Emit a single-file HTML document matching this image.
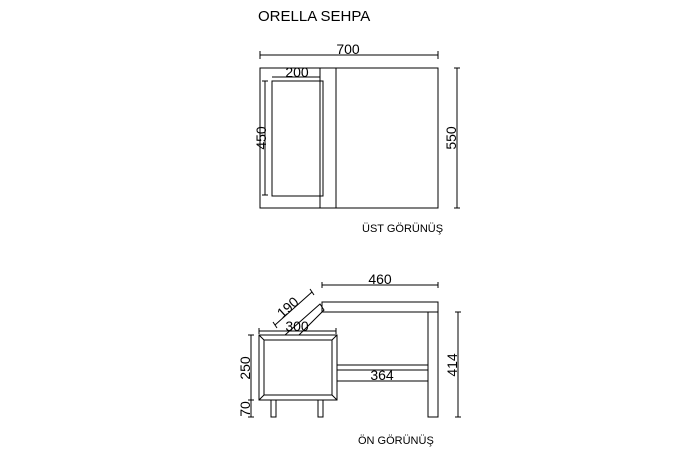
<!DOCTYPE html>
<html><head><meta charset="utf-8"><style>body{margin:0;background:#fff}svg{display:block}</style></head><body>
<svg width="700" height="450" xmlns="http://www.w3.org/2000/svg" font-family="Liberation Sans, sans-serif" fill="none" stroke="#000" stroke-width="1">
<text x="258" y="21" font-size="15" fill="#000" stroke="none">ORELLA SEHPA</text>
<!-- top view -->
<rect x="260" y="68" width="178" height="140"/>
<line x1="320" y1="68" x2="320" y2="208"/>
<line x1="336" y1="68" x2="336" y2="208"/>
<rect x="272" y="81" width="51" height="115"/>
<line x1="260" y1="55" x2="438" y2="55"/><line x1="260" y1="51" x2="260" y2="59"/><line x1="438" y1="51" x2="438" y2="59"/>
<text x="348" y="54" font-size="14" fill="#000" stroke="none" text-anchor="middle">700</text>
<line x1="272" y1="77" x2="320" y2="77"/>
<text x="297" y="77" font-size="14" fill="#000" stroke="none" text-anchor="middle">200</text>
<line x1="265" y1="81" x2="265" y2="195"/><line x1="262" y1="81" x2="268" y2="81"/><line x1="262" y1="195" x2="268" y2="195"/>
<text transform="translate(266,138) rotate(-90)" font-size="14" fill="#000" stroke="none" text-anchor="middle">450</text>
<line x1="457" y1="68" x2="457" y2="208"/><line x1="454" y1="68" x2="460" y2="68"/><line x1="454" y1="208" x2="460" y2="208"/>
<text transform="translate(456,138) rotate(-90)" font-size="14" fill="#000" stroke="none" text-anchor="middle">550</text>
<text x="362" y="232" font-size="11" fill="#000" stroke="none">ÜST GÖRÜNÜŞ</text>
<!-- front view -->
<rect x="322" y="302" width="116" height="10"/>
<rect x="428" y="312" width="10" height="105"/>
<polygon points="285,335 320,304 324,310 299,335"/>
<rect x="259" y="335" width="78" height="65"/>
<rect x="264" y="340" width="68" height="55"/>
<line x1="259" y1="335" x2="264" y2="340"/><line x1="337" y1="335" x2="332" y2="340"/><line x1="259" y1="400" x2="264" y2="395"/><line x1="337" y1="400" x2="332" y2="395"/>
<rect x="271" y="400" width="5" height="17"/>
<rect x="318" y="400" width="5" height="17"/>
<rect x="337" y="365" width="91" height="5"/>
<line x1="337" y1="381" x2="428" y2="381"/><line x1="337" y1="378" x2="337" y2="384"/><line x1="428" y1="378" x2="428" y2="384"/>
<text x="382" y="380" font-size="14" fill="#000" stroke="none" text-anchor="middle">364</text>
<line x1="322" y1="285" x2="438" y2="285"/><line x1="322" y1="282" x2="322" y2="288"/><line x1="438" y1="282" x2="438" y2="288"/>
<text x="380" y="284" font-size="14" fill="#000" stroke="none" text-anchor="middle">460</text>
<line x1="458" y1="312" x2="458" y2="417"/><line x1="455" y1="312" x2="461" y2="312"/><line x1="455" y1="417" x2="461" y2="417"/>
<text transform="translate(457,365) rotate(-90)" font-size="14" fill="#000" stroke="none" text-anchor="middle">414</text>
<line x1="251" y1="335" x2="251" y2="417"/><line x1="248" y1="335" x2="254" y2="335"/><line x1="248" y1="400" x2="254" y2="400"/><line x1="248" y1="417" x2="254" y2="417"/>
<text transform="translate(250,368) rotate(-90)" font-size="14" fill="#000" stroke="none" text-anchor="middle">250</text>
<text transform="translate(250,409) rotate(-90)" font-size="14" fill="#000" stroke="none" text-anchor="middle">70</text>
<line x1="259" y1="331" x2="336" y2="331"/><line x1="259" y1="328" x2="259" y2="334"/><line x1="336" y1="328" x2="336" y2="334"/>
<text x="297" y="331" font-size="14" fill="#000" stroke="none" text-anchor="middle">300</text>
<line x1="275" y1="325" x2="312" y2="292"/><line x1="273" y1="322" x2="277" y2="328"/><line x1="310" y1="289" x2="314" y2="295"/>
<text transform="translate(291,311) rotate(-42)" font-size="14" fill="#000" stroke="none" text-anchor="middle">190</text>
<text x="358" y="444" font-size="11" fill="#000" stroke="none">ÖN GÖRÜNÜŞ</text>
</svg>
</body></html>
